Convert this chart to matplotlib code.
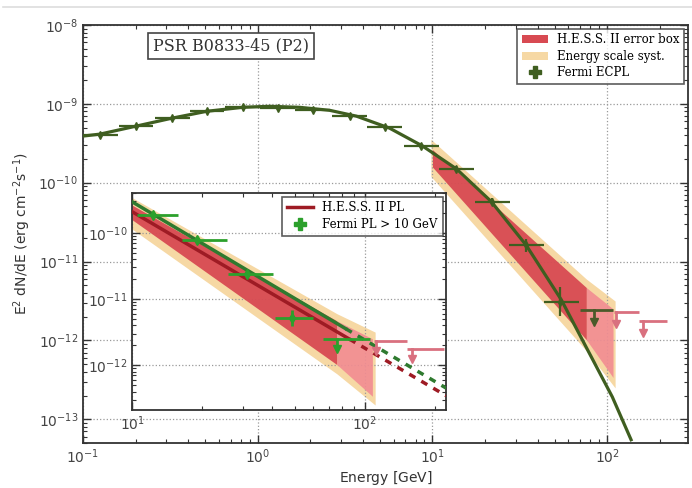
import matplotlib
matplotlib.use("Agg")
import matplotlib.pyplot as plt
from matplotlib.lines import Line2D
from matplotlib.patches import Patch
import numpy as np

# Fermi-LAT ECPL spectral points (GeV, erg cm^-2 s^-1)
fermi_ecpl_e = [0.125, 0.201, 0.323, 0.512, 0.82, 1.30, 2.06, 3.36, 5.32, 8.65, 13.7, 22.0, 34.4, 53.8]
fermi_ecpl_lo = [0.10, 0.16, 0.26, 0.41, 0.65, 1.03, 1.64, 2.67, 4.2, 6.9, 10.9, 17.5, 27.3, 43.5]
fermi_ecpl_hi = [0.158, 0.25, 0.41, 0.64, 1.03, 1.64, 2.6, 4.2, 6.7, 10.9, 17.3, 27.7, 43.3, 69.0]
fermi_ecpl_flux = [4.02e-10, 5.21e-10, 6.57e-10, 8.05e-10, 9.04e-10, 8.78e-10, 8.28e-10,
                   6.97e-10, 5.06e-10, 2.92e-10, 1.50e-10, 5.77e-11, 1.61e-11, 3.1e-12]
fermi_ecpl_err_dex = [0.02, 0.02, 0.02, 0.02, 0.02, 0.02, 0.02, 0.02, 0.02, 0.03, 0.04, 0.05, 0.08, 0.18]

# ECPL model curve
ecpl_curve_e = [0.100, 0.125, 0.201, 0.323, 0.512, 0.820, 1.17, 1.74, 2.58, 3.68,
                5.68, 8.77, 13.7, 21.7, 34.4, 54.6, 75.9, 107.0, 137.0]
ecpl_curve_flux = [3.90e-10, 4.13e-10, 5.21e-10, 6.58e-10, 8.05e-10, 9.03e-10, 9.31e-10,
                   9.03e-10, 8.28e-10, 6.97e-10, 4.92e-10, 2.92e-10, 1.50e-10, 5.77e-11,
                   1.61e-11, 3.28e-12, 8.17e-13, 1.92e-13, 5.5e-14]

# Fermi upper limit above the last ECPL bin
fermi_ul_e, fermi_ul_lo, fermi_ul_hi, fermi_ul_flux = 84.0, 70.0, 108.0, 2.4e-12

# H.E.S.S. II error box: butterfly + last-bin box
hess_band_e = [10.0, 76.0]
hess_band_upper = [2.63e-10, 4.68e-12]
hess_band_lower = [1.58e-10, 1.02e-12]
hess_box_e = [76.0, 108.0]
hess_box_upper = [4.68e-12, 2.51e-12]
hess_box_lower = [1.02e-12, 3.39e-13]

# energy scale systematics
syst_e = [9.8, 76.0, 111.0]
syst_upper = [3.55e-10, 6.0e-12, 3.16e-12]
syst_lower = [1.2e-10, 7.4e-13, 2.5e-13]

# H.E.S.S. II upper limits
hess_ul_e = [112.0, 160.0]
hess_ul_lo = [110.0, 152.0]
hess_ul_hi = [152.0, 220.0]
hess_ul_flux = [2.3e-12, 1.75e-12]

# power-law fits above 10 GeV (solid = fit range, dashed = extrapolation)
hess_pl_e = [10.0, 86.0, 224.0]
hess_pl_flux = [2.09e-10, 2.48e-12, 3.46e-13]
fermi_pl_e = [10.0, 83.0, 225.0]
fermi_pl_flux = [2.95e-10, 3.55e-12, 4.47e-13]

# Fermi PL > 10 GeV points
fermi_pl_pts_e = [12.3, 19.0, 31.2, 48.6]
fermi_pl_pts_lo = [10.5, 16.4, 25.8, 41.0]
fermi_pl_pts_hi = [15.7, 25.6, 40.3, 60.0]
fermi_pl_pts_flux = [1.87e-10, 7.8e-11, 2.4e-11, 5.1e-12]
fermi_pl_pts_err_dex = [0.03, 0.03, 0.04, 0.12]
fermi_pl_ul_e, fermi_pl_ul_lo, fermi_pl_ul_hi, fermi_pl_ul_flux = 76.0, 66.0, 105.0, 2.5e-12

ECPL_GREEN = "#3f5e20"
PL_GREEN = "#2f7a2f"
PT_GREEN = "#2ca02c"
HESS_RED = "#d84a52"
BOX_PINK = "#f28c92"
SYST_ORANGE = "#f6d8a4"
PL_RED = "#9e1b24"
UL_PINK = "#d9707f"
SERIF = "DejaVu Serif"


def log_errors(flux, dex):
    flux = np.asarray(flux)
    dex = np.asarray(dex)
    return [flux * (1 - 10 ** -dex), flux * (10 ** dex - 1)]


def style_axes(ax, labelsize):
    ax.set_xscale("log")
    ax.set_yscale("log")
    ax.tick_params(which="both", direction="in", top=True, right=True,
                   colors="#333333", labelcolor="#444444", labelsize=labelsize)
    ax.tick_params(which="major", length=6, width=1)
    ax.tick_params(which="minor", length=3, width=0.8)
    ax.grid(True, which="major", linestyle=":", color="#999999", linewidth=0.9)
    for spine in ax.spines.values():
        spine.set_color("#333333")
        spine.set_linewidth(1.3)


def draw_bands(ax):
    ax.fill_between(syst_e, syst_lower, syst_upper, color=SYST_ORANGE, lw=0, zorder=1)
    ax.fill_between(hess_band_e, hess_band_lower, hess_band_upper, color=HESS_RED,
                    alpha=0.95, lw=0, zorder=2)
    ax.fill_between(hess_box_e, hess_box_lower, hess_box_upper, color=BOX_PINK,
                    alpha=0.9, lw=0, zorder=2)


def draw_upper_limit(ax, e, lo, hi, flux, color, lw=2):
    ax.plot([lo, hi], [flux, flux], color=color, lw=lw, zorder=4, solid_capstyle="butt")
    tip = flux * 10 ** -0.15
    ax.plot([e, e], [flux, tip], color=color, lw=lw, zorder=4)
    ax.plot([e], [tip], marker="v", color=color, ms=6, zorder=4)


fig = plt.figure(figsize=(6.92, 4.88), dpi=100)
fig.add_artist(Line2D([0.005, 1.0], [0.986, 0.986], color="#dddddd", lw=1.2))

ax = fig.add_axes([0.1199, 0.0922, 0.8743, 0.8566])
style_axes(ax, 10)
ax.set_xlim(0.1, 290)
ax.set_ylim(5e-14, 1e-8)

draw_bands(ax)
ax.plot(ecpl_curve_e, ecpl_curve_flux, color=ECPL_GREEN, lw=2.3, zorder=3)
e_arr = np.asarray(fermi_ecpl_e)
ax.errorbar(fermi_ecpl_e, fermi_ecpl_flux,
            xerr=[e_arr - np.asarray(fermi_ecpl_lo), np.asarray(fermi_ecpl_hi) - e_arr],
            yerr=log_errors(fermi_ecpl_flux, fermi_ecpl_err_dex),
            fmt="d", ms=4, color=ECPL_GREEN, elinewidth=1.6, capsize=0, zorder=5)
draw_upper_limit(ax, fermi_ul_e, fermi_ul_lo, fermi_ul_hi, fermi_ul_flux, "#4a5a2a")
for e, lo, hi, f in zip(hess_ul_e, hess_ul_lo, hess_ul_hi, hess_ul_flux):
    draw_upper_limit(ax, e, lo, hi, f, UL_PINK)

ax.set_xlabel("Energy [$\\mathrm{GeV}$]", fontsize=10, color="#333333", labelpad=2)
ax.set_ylabel("E$^2$ dN/dE (erg cm$^{-2}$s$^{-1}$)", fontsize=10, color="#333333")

ax.text(0.245, 0.95, "PSR B0833-45 (P2)", transform=ax.transAxes, ha="center", va="center",
        family=SERIF, fontsize=11.5, color="#333333",
        bbox=dict(boxstyle="square,pad=0.3", fc="white", ec="#444444", lw=1.2))

main_handles = [
    Patch(facecolor=HESS_RED, edgecolor="none", label="H.E.S.S. II error box"),
    Patch(facecolor=SYST_ORANGE, edgecolor="none", label="Energy scale syst."),
    Line2D([], [], color=ECPL_GREEN, marker="P", ms=8, lw=0, label="Fermi ECPL"),
]
leg = ax.legend(handles=main_handles, loc="upper right", prop={"family": SERIF, "size": 8.5},
                fancybox=False, edgecolor="#333333", borderaxespad=0.3, handlelength=2.2,
                labelspacing=0.3, borderpad=0.4)
leg.get_frame().set_linewidth(1.2)
leg.set_zorder(6)

# inset: the spectrum above 10 GeV
inset = fig.add_axes([0.1908, 0.1598, 0.4538, 0.4447])
style_axes(inset, 10)
inset.set_xlim(10, 224)
inset.set_ylim(2.1e-13, 4e-10)
draw_bands(inset)

inset.plot(fermi_pl_e[:2], fermi_pl_flux[:2], color=PL_GREEN, lw=2.5, zorder=3)
inset.plot(fermi_pl_e[1:], fermi_pl_flux[1:], color=PL_GREEN, lw=2.5, ls=(0, (2, 2)), zorder=3)
inset.plot(hess_pl_e[:2], hess_pl_flux[:2], color=PL_RED, lw=2.5, zorder=3)
inset.plot(hess_pl_e[1:], hess_pl_flux[1:], color=PL_RED, lw=2.5, ls=(0, (2, 2)), zorder=3)

pe = np.asarray(fermi_pl_pts_e)
inset.errorbar(fermi_pl_pts_e, fermi_pl_pts_flux,
               xerr=[pe - np.asarray(fermi_pl_pts_lo), np.asarray(fermi_pl_pts_hi) - pe],
               yerr=log_errors(fermi_pl_pts_flux, fermi_pl_pts_err_dex),
               fmt="d", ms=5, color=PT_GREEN, elinewidth=2, capsize=0, zorder=5)
draw_upper_limit(inset, fermi_pl_ul_e, fermi_pl_ul_lo, fermi_pl_ul_hi, fermi_pl_ul_flux, PT_GREEN)
for e, lo, hi, f in zip(hess_ul_e, hess_ul_lo, hess_ul_hi, hess_ul_flux):
    draw_upper_limit(inset, e, lo, hi, f, UL_PINK)

inset_handles = [
    Line2D([], [], color=PL_RED, lw=2.5, label="H.E.S.S. II PL"),
    Line2D([], [], color=PT_GREEN, marker="P", ms=8, lw=0, label="Fermi PL > 10 GeV"),
]
leg2 = inset.legend(handles=inset_handles, loc="upper right", prop={"family": SERIF, "size": 8.5},
                    fancybox=False, edgecolor="#333333", borderaxespad=0.3, handlelength=2.2,
                    labelspacing=0.3, borderpad=0.4)
leg2.get_frame().set_linewidth(1.2)
leg2.set_zorder(6)

fig.savefig("out.png", dpi=100)
